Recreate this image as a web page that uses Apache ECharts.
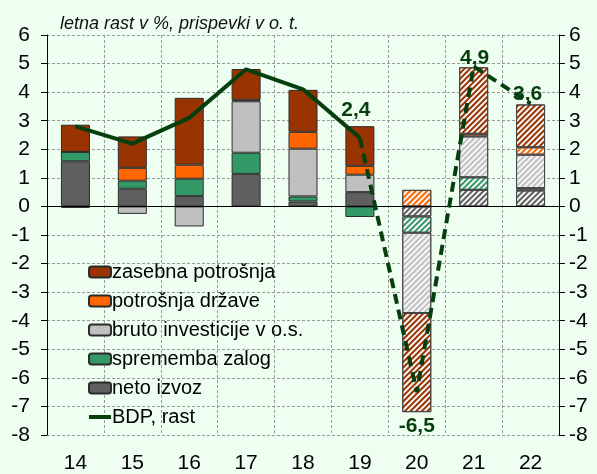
<!DOCTYPE html>
<html>
<head>
<meta charset="utf-8">
<script src="https://cdn.jsdelivr.net/npm/echarts@6/dist/echarts.min.js"></script>
<style>
  html, body { margin: 0; padding: 0; background: #eefff2; }
  #main { width: 597px; height: 474px; }
</style>
</head>
<body>
<div id="main"></div>
<script>
// leta (20, 21, 22 = napoved, srafirano)
var years = ['14', '15', '16', '17', '18', '19', '20', '21', '22'];
var netoIzvoz = [1.58, 0.62, 0.36, 1.14, 0.17, 0.50, -0.35, 0.58, 0.56];
var zaloge = [0.33, 0.28, 0.61, 0.74, 0.18, -0.37, -0.57, 0.44, 0.08];
var investicije = [0, -0.26, -0.70, 1.80, 1.67, 0.61, -2.81, 1.43, 1.17];
var drzava = [-0.05, 0.45, 0.49, 0.05, 0.59, 0.31, 0.58, 0.09, 0.26];
var zasebna = [0.95, 1.10, 2.34, 1.08, 1.47, 1.39, -3.47, 2.33, 1.50];
var bdp = [2.8, 2.2, 3.1, 4.8, 4.1, 2.4, -6.5, 4.9, 3.6];
var firstForecast = 6;

var font = '"Liberation Sans Narrow", "Arial Narrow", "Liberation Sans", Arial, sans-serif';
var green = '#063f0e';

function stacked (name, values, color) {
  return {
    name: name,
    type: 'bar',
    stack: 'prispevki',
    barWidth: '51%',
    itemStyle: { color: color, borderColor: '#2b2b2b', borderWidth: 1 },
    data: values.map(function (v, i) {
      if (i < firstForecast) return v;
      return {
        value: v,
        itemStyle: {
          color: '#f7f7f7',
          borderColor: '#444',
          decal: {
            symbol: 'rect',
            symbolSize: 1,
            color: color,
            dashArrayX: [1, 0],
            dashArrayY: [2, 1.6],
            rotation: -Math.PI / 4
          }
        }
      };
    })
  };
}

var solid = bdp.map(function (v, i) { return i <= 5 ? v : '-'; });
var dashed = bdp.map(function (v, i) {
  if (i < 5) return '-';
  var pos = i === 6 ? 'bottom' : 'top';
  var off = i === 6 ? [0, 19] : (i === 5 ? [-4, -12] : (i === 8 ? [-3, 6] : [1, 7]));
  return { value: v, label: { show: true, position: pos, offset: off } };
});

var chart = echarts.init(document.getElementById('main'));
chart.setOption({
  animation: false,
  backgroundColor: '#eefff2',
  title: {
    text: 'letna rast v %, prispevki v o. t.',
    left: 55,
    top: 10,
    textStyle: { fontFamily: font, fontStyle: 'italic', fontWeight: 'normal', fontSize: 18, color: '#111' }
  },
  grid: { left: 47, right: 38, top: 35, bottom: 39 },
  legend: {
    orient: 'vertical',
    left: 82,
    top: 257,
    itemWidth: 22,
    itemHeight: 11,
    itemGap: 9,
    textStyle: { fontFamily: font, fontSize: 20, color: '#000', padding: [0, 0, 0, -4] },
    data: ['zasebna potrošnja', 'potrošnja države', 'bruto investicije v o.s.',
      'sprememba zalog', 'neto izvoz',
      {
        name: 'BDP, rast',
        lineStyle: { width: 4, color: green },
        itemStyle: { color: 'rgba(0,0,0,0)', borderColor: 'rgba(0,0,0,0)', borderWidth: 0 }
      }]
  },
  xAxis: {
    type: 'category',
    data: years,
    axisLine: { show: false },
    axisTick: { show: false },
    axisLabel: { fontFamily: font, fontSize: 21, color: '#000', margin: 18 },
    splitLine: { show: true, lineStyle: { color: '#9a9a9a', type: [3, 2] } }
  },
  yAxis: [{
    type: 'value',
    min: -8,
    max: 6,
    interval: 1,
    axisLine: { show: true, lineStyle: { color: '#000' } },
    axisTick: { show: true, length: 6, lineStyle: { color: '#000' } },
    axisLabel: { fontFamily: font, fontSize: 21, color: '#000', margin: 17 },
    splitLine: { lineStyle: { color: '#9a9a9a', type: [3, 2] } }
  }, {
    type: 'value',
    position: 'right',
    min: -8,
    max: 6,
    interval: 1,
    axisLine: { show: true, lineStyle: { color: '#000' } },
    axisTick: { show: true, length: 6, lineStyle: { color: '#000' } },
    axisLabel: { fontFamily: font, fontSize: 21, color: '#000', margin: 10 },
    splitLine: { show: false }
  }],
  series: [
    stacked('neto izvoz', netoIzvoz, '#5f5f5f'),
    stacked('sprememba zalog', zaloge, '#339966'),
    stacked('bruto investicije v o.s.', investicije, '#c0c0c0'),
    stacked('potrošnja države', drzava, '#ff6600'),
    stacked('zasebna potrošnja', zasebna, '#993300'),
    {
      name: 'BDP, rast',
      type: 'line',
      symbol: 'none',
      z: 5,
      lineStyle: { color: green, width: 4 },
      itemStyle: { color: green },
      data: solid,
      markLine: {
        silent: true,
        symbol: 'none',
        label: { show: false },
        lineStyle: { color: '#000', width: 1, type: 'solid' },
        data: [{ yAxis: 0 }]
      }
    },
    {
      name: 'BDP napoved',
      type: 'line',
      symbol: 'circle',
      symbolSize: 0,
      showAllSymbol: true,
      z: 5,
      lineStyle: { color: green, width: 4, type: [10, 6] },
      itemStyle: { color: green },
      label: {
        fontFamily: font,
        fontWeight: 'bold',
        fontSize: 21,
        color: green,
        formatter: function (p) { return String(p.value).replace('.', ','); }
      },
      data: dashed
    }
  ]
});
</script>
</body>
</html>
